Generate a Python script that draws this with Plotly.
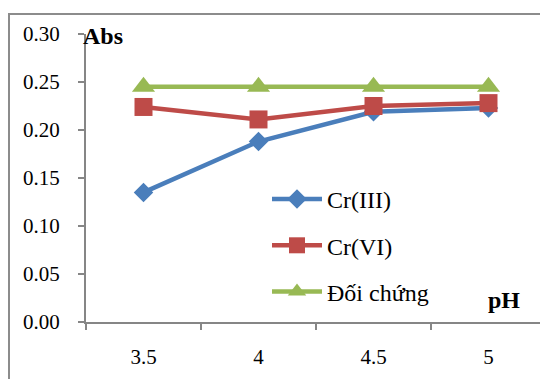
import plotly.graph_objects as go

ph_labels = ["3.5", "4", "4.5", "5"]
cr3 = [0.135, 0.188, 0.219, 0.223]
cr6 = [0.224, 0.211, 0.225, 0.228]
control = [0.245, 0.245, 0.245, 0.245]
y_ticks = [0.0, 0.05, 0.10, 0.15, 0.20, 0.25, 0.30]
y_ticktext = ["0.00", "0.05", "0.10", "0.15", "0.20", "0.25", "0.30"]

W, H = 540, 379
L, R, T, B = 86, 0, 34, 57
PW, PH = W - L - R, H - T - B
FONT = "Liberation Serif"

def px_x(p):
    return (p - L) / PW

def px_y(p):
    return (H - B - p) / PH

fig = go.Figure()
series = [
    ("Cr(III)", cr3, "#4A7EBB", "diamond", 15),
    ("Cr(VI)", cr6, "#BE4B48", "square", 18),
    ("Đối chứng", control, "#98B954", "triangle-up", 20),
]
for i, (name, vals, col, sym, sz) in enumerate(series):
    fig.add_trace(go.Scatter(
        x=ph_labels, y=vals, name=name, mode="lines+markers",
        legendgroup=f"g{i}",
        line=dict(color=col, width=4.5),
        marker=dict(symbol=sym, size=sz, color=col, line=dict(width=0)),
        cliponaxis=False,
    ))

axis_col = "#868686"
fig.update_layout(
    width=W, height=H,
    margin=dict(l=L, r=R, t=T, b=B, pad=0),
    paper_bgcolor="white", plot_bgcolor="white",
    font=dict(family=FONT, size=21, color="black"),
    showlegend=True,
    legend=dict(
        x=px_x(267), y=px_y(177), xanchor="left", yanchor="top",
        bgcolor="rgba(0,0,0,0)", font=dict(family=FONT, size=24),
        traceorder="grouped", tracegroupgap=12, itemwidth=50,
    ),
    xaxis=dict(
        type="category", range=[-0.5, -0.5 + PW / 115.0],
        showline=True, linecolor=axis_col, linewidth=2,
        ticks="outside", ticklen=6, tickwidth=2, tickcolor=axis_col,
        tickson="boundaries", showgrid=False, zeroline=False,
        ticklabelstandoff=15,
        tickfont=dict(family=FONT, size=21),
    ),
    yaxis=dict(
        range=[0, 0.30], tickvals=y_ticks, ticktext=y_ticktext,
        showline=True, linecolor=axis_col, linewidth=2,
        ticks="outside", ticklen=6, tickwidth=2, tickcolor=axis_col,
        showgrid=False, zeroline=False,
        ticklabelstandoff=14,
        tickfont=dict(family=FONT, size=21),
    ),
)

# outer chart border
fig.add_shape(type="rect", xref="paper", yref="paper",
              x0=px_x(9), x1=px_x(600), y0=px_y(430), y1=px_y(14),
              line=dict(color="#8C8C8C", width=2), fillcolor="rgba(0,0,0,0)",
              layer="below")

fig.add_annotation(xref="paper", yref="paper", x=px_x(81), y=px_y(36),
                   xanchor="left", yanchor="middle", showarrow=False,
                   text="<b>Abs</b>", font=dict(family=FONT, size=24, color="black"))
fig.add_annotation(xref="paper", yref="paper", x=px_x(486), y=px_y(300),
                   xanchor="left", yanchor="middle", showarrow=False,
                   text="<b>pH</b>", font=dict(family=FONT, size=24, color="black"))

fig.write_html("out.html")
